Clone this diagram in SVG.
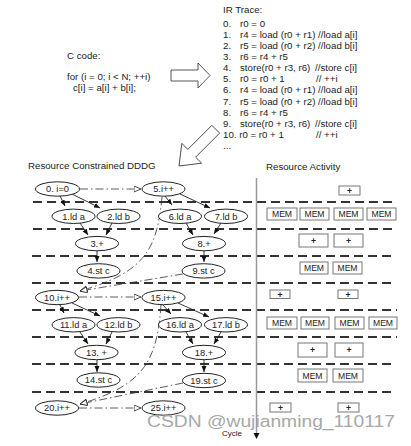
<svg xmlns="http://www.w3.org/2000/svg" width="411" height="446" viewBox="0 0 411 446">
<style>
text{font-family:"Liberation Sans",Arial,sans-serif;fill:#222}
.t{font-size:9.7px}
.n{font-size:9.3px;text-anchor:middle}
.b{font-size:8.6px;text-anchor:middle}
ellipse{fill:#fff;stroke:#222;stroke-width:1}
.e{fill:none;stroke:#222;stroke-width:0.9;marker-end:url(#ah)}
.d{fill:none;stroke:#333;stroke-width:0.8;stroke-dasharray:8 3 1.5 3;marker-end:url(#oh)}
.dl{stroke:#333;stroke-width:2;stroke-dasharray:9 5}
.box{fill:#fff;stroke:#777;stroke-width:1}
.blk{fill:#fff;stroke:#444;stroke-width:0.9}
</style>
<defs>
<marker id="ah" markerUnits="userSpaceOnUse" markerWidth="7" markerHeight="6" refX="6" refY="2.5" orient="auto"><path d="M0,0 L6,2.5 L0,5 z" fill="#111"/></marker>
<marker id="oh" markerUnits="userSpaceOnUse" markerWidth="9" markerHeight="8" refX="7.5" refY="3.5" orient="auto"><path d="M0.5,0.5 L7.5,3.5 L0.5,6.5 z" fill="#fff" stroke="#222" stroke-width="0.8"/></marker>
</defs>

<g id="ccode">
<text class="t" x="67" y="58.5">C code:</text>
<text class="t" x="67" y="79.5">for (i = 0; i &lt; N; ++i)</text>
<text class="t" x="73" y="90.5">c[i] = a[i] + b[i];</text>
</g>

<g id="irtrace">
<text class="t" x="223" y="13">IR Trace:</text>
<text class="t" x="223" y="26.8">0.</text><text class="t" x="240" y="26.8">r0 = 0</text>
<text class="t" x="223" y="37.9">1.</text><text class="t" x="240" y="37.9">r4 = load (r0 + r1) //load a[i]</text>
<text class="t" x="223" y="49">2.</text><text class="t" x="240" y="49">r5 = load (r0 + r2) //load b[i]</text>
<text class="t" x="223" y="60.1">3.</text><text class="t" x="240" y="60.1">r6 = r4 + r5</text>
<text class="t" x="223" y="71.2">4.</text><text class="t" x="240" y="71.2">store(r0 + r3, r6)</text><text class="t" x="315" y="71.2">//store c[i]</text>
<text class="t" x="223" y="82.3">5.</text><text class="t" x="240" y="82.3">r0 = r0 + 1</text><text class="t" x="316" y="82.3">// ++i</text>
<text class="t" x="223" y="93.4">6.</text><text class="t" x="240" y="93.4">r4 = load (r0 + r1) //load a[i]</text>
<text class="t" x="223" y="104.5">7.</text><text class="t" x="240" y="104.5">r5 = load (r0 + r2) //load b[i]</text>
<text class="t" x="223" y="115.6">8.</text><text class="t" x="240" y="115.6">r6 = r4 + r5</text>
<text class="t" x="223" y="126.7">9.</text><text class="t" x="240" y="126.7">store(r0 + r3, r6)</text><text class="t" x="315" y="126.7">//store c[i]</text>
<text class="t" x="223" y="137.8">10. r0 = r0 + 1</text><text class="t" x="316" y="137.8">// ++i</text>
<text class="t" x="223" y="148.9">...</text>
</g>

<g id="bigarrows">
<polygon class="blk" points="171,70 198,70 198,63 210,75.5 198,88 198,81 171,81"/>
<polygon class="blk" transform="translate(179,166) rotate(135)" points="-52,-5.5 -18,-5.5 -18,-14 0,0 -18,14 -18,5.5 -52,5.5"/>
</g>

<g id="titles">
<text class="t" x="28" y="168.5">Resource Constrained DDDG</text>
<text class="t" x="266" y="169.5">Resource Activity</text>
</g>

<g id="cycles">
<line class="dl" x1="33" y1="202" x2="397" y2="202"/>
<line class="dl" x1="33" y1="229" x2="397" y2="229"/>
<line class="dl" x1="32" y1="256" x2="395" y2="256"/>
<line class="dl" x1="32" y1="283" x2="395" y2="283"/>
<line class="dl" x1="32" y1="310" x2="397" y2="310"/>
<line class="dl" x1="32" y1="337" x2="397" y2="337"/>
<line class="dl" x1="32" y1="364" x2="395" y2="364"/>
<line class="dl" x1="32" y1="392" x2="395" y2="392"/>
<line x1="256.5" y1="178" x2="256.5" y2="434" stroke="#999" stroke-width="1.5"/>
<polygon points="253.5,433 259.5,433 256.5,439" fill="#111"/>
<text x="222" y="436" style="font-size:8px">Cycle</text>
</g>

<g id="connectors">
<path class="e" d="M60,196 L65,206"/>
<path class="e" d="M72,194 L100,208"/>
<path class="e" d="M165,196 L172,205"/>
<path class="e" d="M180,194 L210,208"/>
<path class="e" d="M80,223 L88,235"/>
<path class="e" d="M112,223 L106,235"/>
<path class="e" d="M186,223 L193,235"/>
<path class="e" d="M221,223 L214,234"/>
<path class="e" d="M97,251 L97,262"/>
<path class="e" d="M204,251 L204,262"/>
<path class="e" d="M60,305 L64,313"/>
<path class="e" d="M72,303 L100,316"/>
<path class="e" d="M163,305 L171,314"/>
<path class="e" d="M178,303 L209,317"/>
<path class="e" d="M80,332 L88,344"/>
<path class="e" d="M112,332 L106,344"/>
<path class="e" d="M186,332 L193,344"/>
<path class="e" d="M221,332 L214,344"/>
<path class="e" d="M97,360 L97,372"/>
<path class="e" d="M204,360 L204,372"/>
<path class="d" d="M80,189 L141,189"/>
<path class="d" d="M79,297 L141,297"/>
<path class="d" d="M79,408 L141,408"/>
<path class="d" d="M162,197 C157,250 145,272 80,291"/>
<path class="d" d="M183,274 L80,291"/>
<path class="d" d="M161,305 C157,360 145,385 80,404"/>
<path class="d" d="M183,383 L80,404"/>
</g>

<g id="n0"><ellipse cx="57.5" cy="189" rx="22" ry="7.2"/><text class="n" x="57.5" y="192.3">0. i=0</text></g>
<g id="n5"><ellipse cx="163.5" cy="189" rx="21.5" ry="7.2"/><text class="n" x="163.5" y="192.3">5.i++</text></g>
<g id="n1"><ellipse cx="73.5" cy="216.3" rx="21.5" ry="7.2"/><text class="n" x="73.5" y="219.6">1.ld a</text></g>
<g id="n2"><ellipse cx="118.5" cy="216.3" rx="21.5" ry="7.2"/><text class="n" x="118.5" y="219.6">2.ld b</text></g>
<g id="n6"><ellipse cx="180" cy="216.3" rx="21.5" ry="7.2"/><text class="n" x="180" y="219.6">6.ld a</text></g>
<g id="n7"><ellipse cx="226" cy="216.3" rx="21.5" ry="7.2"/><text class="n" x="226" y="219.6">7.ld b</text></g>
<g id="n3"><ellipse cx="97" cy="243.6" rx="21.5" ry="7.2"/><text class="n" x="97" y="246.9">3.+</text></g>
<g id="n8"><ellipse cx="204" cy="243.6" rx="21.5" ry="7.2"/><text class="n" x="204" y="246.9">8.+</text></g>
<g id="n4"><ellipse cx="98.5" cy="270.9" rx="21.5" ry="7.2"/><text class="n" x="98.5" y="274.2">4.st c</text></g>
<g id="n9"><ellipse cx="203.5" cy="270.9" rx="21.5" ry="7.2"/><text class="n" x="203.5" y="274.2">9.st c</text></g>
<g id="n10"><ellipse cx="57" cy="297.5" rx="21.5" ry="7.2"/><text class="n" x="57" y="300.8">10.i++</text></g>
<g id="n15"><ellipse cx="163.5" cy="297.5" rx="21.5" ry="7.2"/><text class="n" x="163.5" y="300.8">15.i++</text></g>
<g id="n11"><ellipse cx="73.5" cy="324.8" rx="21.5" ry="7.2"/><text class="n" x="73.5" y="328.1">11.ld a</text></g>
<g id="n12"><ellipse cx="118.5" cy="324.8" rx="21.5" ry="7.2"/><text class="n" x="118.5" y="328.1">12.ld b</text></g>
<g id="n16"><ellipse cx="180" cy="324.8" rx="21.5" ry="7.2"/><text class="n" x="180" y="328.1">16.ld a</text></g>
<g id="n17"><ellipse cx="226" cy="324.8" rx="21.5" ry="7.2"/><text class="n" x="226" y="328.1">17.ld b</text></g>
<g id="n13"><ellipse cx="96.5" cy="352.5" rx="21.5" ry="7.2"/><text class="n" x="96.5" y="355.8">13. +</text></g>
<g id="n18"><ellipse cx="204" cy="352.5" rx="21.5" ry="7.2"/><text class="n" x="204" y="355.8">18.+</text></g>
<g id="n14"><ellipse cx="98.5" cy="380" rx="21.5" ry="7.2"/><text class="n" x="98.5" y="383.3">14.st c</text></g>
<g id="n19"><ellipse cx="204" cy="380.5" rx="21.5" ry="7.2"/><text class="n" x="204" y="383.8">19.st c</text></g>
<g id="n20"><ellipse cx="57" cy="408" rx="21.5" ry="7.2"/><text class="n" x="57" y="411.3">20.i++</text></g>
<g id="n25"><ellipse cx="163.5" cy="408" rx="21.5" ry="7.2"/><text class="n" x="163.5" y="411.3">25.i++</text></g>

<g id="activity">
<rect class="box" x="339" y="186" width="21" height="9"/><text class="b" x="349.5" y="194" style="font-weight:bold">+</text>
<rect class="box" x="267" y="208" width="30" height="12"/><text class="b" x="282" y="217.3">MEM</text>
<rect class="box" x="300" y="208" width="29" height="12"/><text class="b" x="314.5" y="217.3">MEM</text>
<rect class="box" x="334" y="208" width="29" height="12"/><text class="b" x="348.5" y="217.3">MEM</text>
<rect class="box" x="367" y="208" width="29" height="12"/><text class="b" x="381.5" y="217.3">MEM</text>
<rect class="box" x="299" y="234" width="29" height="13"/><text class="b" x="313.5" y="243.5" style="font-weight:bold">+</text>
<rect class="box" x="334" y="234" width="29" height="13"/><text class="b" x="348.5" y="243.5" style="font-weight:bold">+</text>
<rect class="box" x="300" y="262" width="28" height="12"/><text class="b" x="314" y="271.3">MEM</text>
<rect class="box" x="333" y="262" width="29" height="12"/><text class="b" x="347.5" y="271.3">MEM</text>
<rect class="box" x="270" y="290" width="20" height="8.5"/><text class="b" x="280" y="297.8" style="font-weight:bold">+</text>
<rect class="box" x="338" y="290" width="20" height="8.5"/><text class="b" x="348" y="297.8" style="font-weight:bold">+</text>
<rect class="box" x="267" y="317" width="30" height="12"/><text class="b" x="282" y="326.3">MEM</text>
<rect class="box" x="301" y="317" width="28" height="12"/><text class="b" x="315" y="326.3">MEM</text>
<rect class="box" x="335" y="317" width="29" height="12"/><text class="b" x="349.5" y="326.3">MEM</text>
<rect class="box" x="369" y="317" width="28" height="12"/><text class="b" x="383" y="326.3">MEM</text>
<rect class="box" x="298" y="343" width="29" height="14"/><text class="b" x="312.5" y="353" style="font-weight:bold">+</text>
<rect class="box" x="335" y="343" width="28" height="14"/><text class="b" x="349" y="353" style="font-weight:bold">+</text>
<rect class="box" x="298" y="369" width="29" height="13"/><text class="b" x="312.5" y="378.8">MEM</text>
<rect class="box" x="333" y="369" width="30" height="13"/><text class="b" x="348" y="378.8">MEM</text>
<rect class="box" x="270" y="403" width="21" height="9"/><text class="b" x="280.5" y="411" style="font-weight:bold">+</text>
<rect class="box" x="338" y="403" width="21" height="9"/><text class="b" x="348.5" y="411" style="font-weight:bold">+</text>
</g>

<text x="147" y="427" style="font-size:16px;fill:#a8a8a8" textLength="248" lengthAdjust="spacingAndGlyphs">CSDN @wujianming_110117</text>
</svg>
